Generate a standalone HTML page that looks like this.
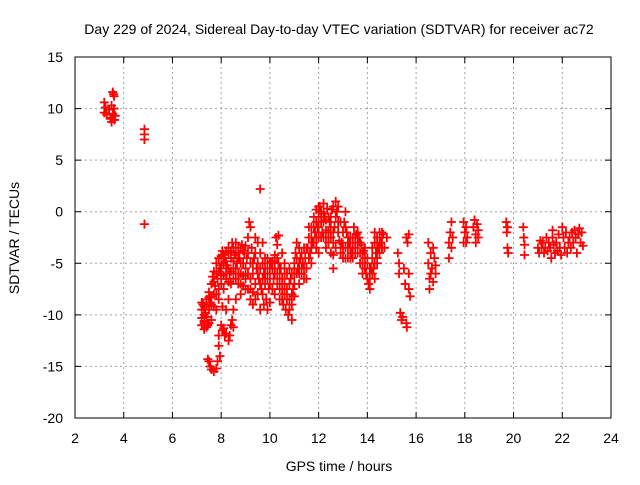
<!DOCTYPE html>
<html><head><meta charset="utf-8"><style>
html,body{margin:0;padding:0;background:#fff;}
svg text{font-family:"Liberation Sans",sans-serif;font-size:14px;fill:#000;}
</style></head><body>
<svg id="chart" width="640" height="480" xmlns="http://www.w3.org/2000/svg">
<text x="339" y="34" text-anchor="middle">Day 229 of 2024, Sidereal Day-to-day VTEC variation (SDTVAR) for receiver ac72</text>
<text x="339" y="471" text-anchor="middle">GPS time / hours</text>
<text transform="translate(19,238) rotate(-90)" text-anchor="middle">SDTVAR / TECUs</text>
<g id="grid"></g>
<g id="ticks"></g>
<g id="marks"></g>
<rect x="75" y="57" width="536" height="361" fill="none" stroke="#000" stroke-width="1"/>
</svg>
<script>
const xTicks=[2,4,6,8,10,12,14,16,18,20,22,24];
const yTicks=[15,10,5,0,-5,-10,-15,-20];
const times=[3.2,3.2,3.25,3.3,3.4,3.45,3.5,3.5,3.55,3.55,3.6,3.6,3.62,3.65,3.58,3.5,
4.85,4.85,4.85,4.85,
7.2,7.2,7.2,7.2,7.25,7.3,7.3,7.35,7.4,7.4,7.45,7.5,7.5,7.55,7.6,7.6,7.65,7.7,7.7,7.75,7.8,7.8,7.85,7.9,7.9,7.95,8.0,8.0,8.05,8.05,8.1,8.1,
7.45,7.5,7.55,7.6,7.7,7.8,7.85,7.9,7.9,7.95,8.0,8.05,8.1,8.15,8.2,8.3,8.35,8.4,8.45,8.5,8.5,
8.15,8.2,8.25,8.3,8.35,8.4,8.45,8.5,8.5,8.55,8.6,8.6,8.65,8.7,8.7,8.75,8.8,8.8,8.85,8.9,8.9,8.95,9.0,9.0,8.4,8.3,8.2,8.3,8.6,
9.05,9.1,9.1,9.15,9.2,9.2,9.2,9.25,9.3,9.3,9.35,9.4,9.4,9.45,9.5,9.5,9.55,9.6,9.6,9.65,9.6,
9.7,9.7,9.75,9.8,9.8,9.85,9.9,9.9,9.95,10.0,10.0,9.75,10.05,
10.1,10.15,10.2,10.2,10.25,10.3,10.3,10.35,10.35,10.4,10.4,10.45,10.5,10.5,10.55,10.6,10.6,
10.65,10.7,10.75,10.8,10.85,10.9,10.9,10.95,11.0,11.0,10.8,
11.05,11.1,11.15,11.2,11.2,11.25,11.3,11.35,11.4,11.45,11.5,
11.55,11.6,11.65,11.7,11.75,11.8,11.85,11.9,11.9,11.95,12.0,12.0,11.7,
12.05,12.1,12.15,12.2,12.25,12.3,12.35,12.4,12.45,12.5,12.3,12.2,12.5,
12.55,12.6,12.65,12.7,12.75,12.6,12.6,12.8,12.85,12.9,12.95,13.0,
13.05,13.1,13.1,13.15,13.2,13.25,13.3,13.35,13.4,13.45,13.5,
13.55,13.6,13.65,13.7,13.75,13.8,13.85,13.9,13.95,14.0,14.05,14.1,
14.15,14.2,14.25,14.3,14.35,14.4,14.45,14.5,14.55,14.6,14.65,14.7,14.8,14.3,14.4,
15.25,15.3,15.3,15.35,15.4,15.45,15.5,15.55,15.6,15.62,15.6,15.65,15.7,15.7,15.75,15.7,
16.5,16.5,16.55,16.55,16.6,16.6,16.65,16.7,16.7,16.75,16.8,16.8,
17.35,17.35,17.4,17.45,17.45,17.5,
17.95,17.95,18.0,18.05,18.1,18.05,
18.35,18.4,18.45,18.45,18.5,18.55,18.55,
19.7,19.72,19.75,19.78,19.75,
20.4,20.42,20.45,20.45,
21.0,21.05,21.1,21.15,21.2,21.25,21.3,21.35,21.4,21.45,21.5,21.55,21.6,21.6,21.65,21.7,21.75,21.8,21.85,21.9,21.95,22.0,22.05,22.1,22.15,22.2,22.25,
22.3,22.35,22.4,22.45,22.5,22.55,22.6,22.65,22.7,22.75,22.8,22.85,
7.3,7.3,7.3,7.4,7.4,7.5,7.5,7.6,7.6,7.7,7.7,7.8,7.8,7.9,7.9,8.0,8.0,8.1,8.1,8.2,8.2,8.2,8.3,8.3,8.4,8.4,8.5,8.5,8.6,8.6,8.7,8.7,8.8,8.8,8.8,8.9,8.9,9.0,9.0,9.1,9.1,9.2,9.2,9.3,9.3,9.4,9.4,9.5,9.5,9.6,9.6,9.7,9.7,9.8,9.8,9.9,9.9,10.0,10.0,10.1,10.1,10.2,10.2,10.3,10.3,10.4,10.4,10.5,10.5,10.6,10.6,10.7,10.7,10.8,10.8,10.9,10.9,11.0,11.0,11.1,11.1,11.2,11.2,11.3,11.3,11.4,11.4,11.5,11.5,11.6,11.6,11.7,11.7,11.8,11.8,11.9,11.9,12.0,12.0,12.0,12.1,12.1,12.2,12.2,12.3,12.3,12.4,12.4,12.5,12.5,12.6,12.6,12.7,12.7,12.8,12.8,12.9,12.9,13.0,13.0,13.1,13.1,13.2,13.2,13.3,13.3,13.4,13.4,13.5,13.5,13.6,13.6,13.7,13.7,13.8,13.8,13.9,13.9,14.0,14.0,14.1,14.1,14.2,14.2,14.3,14.3,14.4,14.4,14.5,14.5,14.6,14.6];
const values=[10.6,9.6,10.1,9.4,9.9,9.0,8.7,10.3,9.5,11.6,11.2,10.0,8.9,9.3,11.4,9.1,
8.0,7.5,7.0,-1.2,
-8.8,-9.5,-10.3,-11.0,-9.0,-10.6,-11.4,-9.8,-10.2,-8.5,-11.0,-9.5,-7.8,-8.8,-7.0,-10.5,-6.3,-8.0,-5.8,-7.2,-5.0,-9.5,-6.5,-4.5,-8.5,-5.5,-4.3,-7.0,-3.8,-9.2,-5.0,-6.2,
-14.3,-14.5,-15.0,-15.3,-15.5,-15.2,-14.5,-13.0,-12.0,-14.0,-11.0,-11.5,-11.3,-12.0,-11.8,-12.5,-12.0,-11.0,-10.5,-11.2,-9.5,
-4.5,-3.8,-5.2,-4.0,-6.0,-4.5,-3.0,-3.5,-5.5,-4.2,-6.5,-3.0,-5.0,-3.5,-7.0,-4.5,-6.0,-8.0,-3.2,-5.0,-7.2,-4.0,-6.5,-3.3,-7.0,-8.5,-9.5,-6.8,-8.5,
-4.5,-2.5,-7.5,-1.0,-1.5,-5.0,-8.5,-3.5,-6.0,-9.0,-4.5,-7.0,-2.5,-5.5,-8.0,-3.0,-6.5,-4.0,-9.5,-7.5,2.2,
-5.0,-3.0,-6.0,-7.0,-4.5,-8.5,-5.5,-9.5,-7.5,-6.0,-8.8,-9.0,-5.0,
-4.8,-6.5,-4.2,-8.0,-2.5,-3.2,-7.0,-5.0,-2.3,-6.5,-8.5,-5.5,-7.5,-4.0,-9.0,-6.0,-8.0,
-9.5,-7.5,-10.0,-8.5,-6.5,-9.0,-10.5,-7.5,-8.2,-6.0,-5.5,
-4.0,-3.0,-5.5,-7.0,-3.5,-4.5,-6.0,-5.0,-6.5,-4.5,-5.5,
-3.5,-2.5,-4.0,-1.5,-3.0,-0.5,-2.0,-3.5,0.2,-1.5,-2.5,-4.0,-5.0,
0.5,-1.0,-2.0,0.8,-0.5,-1.8,0.3,-3.0,-1.0,-2.5,-3.5,-2.5,-4.0,
0.2,0.5,-1.5,1.0,0.0,-4.2,-5.5,-1.0,-2.8,-4.0,-3.0,-2.0,
-1.0,0.0,-3.5,-2.0,-4.5,-3.0,-2.5,-4.0,-3.5,-1.5,-2.5,
-2.2,-3.0,-2.5,-4.0,-3.2,-5.0,-3.8,-4.5,-6.0,-6.5,-7.0,-6.5,
-5.5,-4.5,-5.5,-3.0,-4.0,-2.5,-3.5,-2.0,-3.0,-2.5,-2.2,-3.5,-2.5,-6.5,-5.0,
-4.0,-5.0,-6.0,-9.8,-10.5,-10.2,-5.5,-7.0,-10.8,-11.2,-2.5,-3.0,-6.0,-7.5,-8.2,-2.2,
-3.0,-5.0,-6.5,-7.5,-4.0,-6.0,-5.5,-3.5,-6.8,-4.5,-5.2,-6.0,
-3.0,-4.5,-2.0,-1.0,-3.5,-2.5,
-1.0,-3.0,-2.0,-1.5,-2.5,-3.0,
-1.5,-0.8,-2.2,-3.0,-1.2,-2.5,-1.8,
-1.0,-2.0,-3.5,-4.0,-1.5,
-1.5,-2.5,-3.2,-4.2,
-3.5,-4.0,-2.8,-3.5,-3.0,-4.0,-3.5,-2.5,-3.8,-3.0,-3.5,-4.5,-2.5,-1.8,-3.2,-4.0,-3.0,-3.8,-2.2,-3.5,-4.2,-1.5,-2.5,-3.5,-2.0,-4.0,-3.0,
-2.5,-3.5,-2.0,-3.0,-1.8,-2.5,-4.0,-2.2,-1.6,-3.0,-2.0,-3.3,
-9.2,-10.0,-10.8,-9.0,-11.2,-10.8,-8.3,-8.2,-9.0,-6.8,-9.2,-6.0,-8.0,-5.8,-7.5,-5.2,-6.0,-4.2,-7.5,-5.5,-6.5,-4.8,-3.5,-5.5,-3.8,-5.8,-4.8,-6.5,-4.0,-5.5,-4.5,-6.0,-3.5,-5.0,-7.0,-3.8,-6.2,-5.5,-7.5,-4.0,-6.0,-6.5,-7.5,-5.0,-7.8,-4.0,-8.5,-5.0,-6.0,-5.5,-7.0,-6.5,-8.0,-5.5,-6.5,-6.5,-4.5,-5.0,-7.0,-5.5,-7.5,-5.0,-6.0,-4.5,-6.0,-5.5,-7.5,-6.5,-8.5,-7.0,-5.0,-6.0,-8.5,-7.0,-9.5,-6.0,-8.0,-7.0,-5.0,-4.5,-6.0,-5.0,-6.0,-4.0,-5.5,-5.5,-3.5,-3.5,-6.5,-4.5,-1.5,-2.5,-3.5,-1.5,-3.0,-1.0,-2.5,-0.5,-1.5,0.5,0.0,-2.5,-1.0,-0.2,-0.8,-2.5,-0.5,-2.0,-0.5,-1.5,-2.0,-3.0,-0.5,-3.5,0.5,-2.0,-1.0,-3.5,-3.5,-4.5,-1.5,-4.5,-2.5,-3.5,-3.5,-4.5,-2.5,-4.5,-3.5,-4.0,-4.0,-2.0,-3.0,-5.0,-4.0,-6.0,-5.5,-3.5,-5.0,-4.5,-5.5,-7.5,-6.0,-3.5,-2.0,-5.0,-3.5,-4.5,-3.0,-4.0,-2.0,-3.5];

const L=75,R=611,T=57,B=418,XMIN=2,XMAX=24,YMIN=-20,YMAX=15;
function xs(v){return L+(v-XMIN)/(XMAX-XMIN)*(R-L);}
function ys(v){return B-(v-YMIN)/(YMAX-YMIN)*(B-T);}
const NS='http://www.w3.org/2000/svg';
const grid=document.getElementById('grid'),ticks=document.getElementById('ticks'),marks=document.getElementById('marks');
function mk(tag,attrs,parent){const e=document.createElementNS(NS,tag);for(const k in attrs)e.setAttribute(k,attrs[k]);parent.appendChild(e);return e;}
xTicks.forEach(t=>{
  const x=xs(t);
  if(t>XMIN&&t<XMAX){const g=mk('line',{x1:x,x2:x,y1:T,y2:B,stroke:'#a0a0a0','stroke-dasharray':'2,3'},grid);
  
  }
  const tk=mk('path',{d:`M${x},${B}v-6M${x},${T}v6`,stroke:'#000'},ticks);
  
  
  const lb=mk('text',{x:x,y:B+25,'text-anchor':'middle'},ticks);lb.textContent=t;
  
  
});
yTicks.forEach(t=>{
  const y=ys(t);
  if(t>YMIN&&t<YMAX){const g=mk('line',{x1:L,x2:R,y1:y,y2:y,stroke:'#a0a0a0','stroke-dasharray':'2,3'},grid);
  
  }
  const tk=mk('path',{d:`M${L},${y}h6M${R},${y}h-6`,stroke:'#000'},ticks);
  
  
  const lb=mk('text',{x:L-12,y:y+5,'text-anchor':'end'},ticks);lb.textContent=t;
  
  
});
let d='';
for(let i=0;i<times.length;i++){const x=xs(times[i]),y=ys(values[i]);d+=`M${x-4.5},${y}h9M${x},${y-4.5}v9`;}
const p=mk('path',{d:d,stroke:'#ff0000','stroke-width':'1.8',fill:'none'},marks);


</script>
</body></html>
